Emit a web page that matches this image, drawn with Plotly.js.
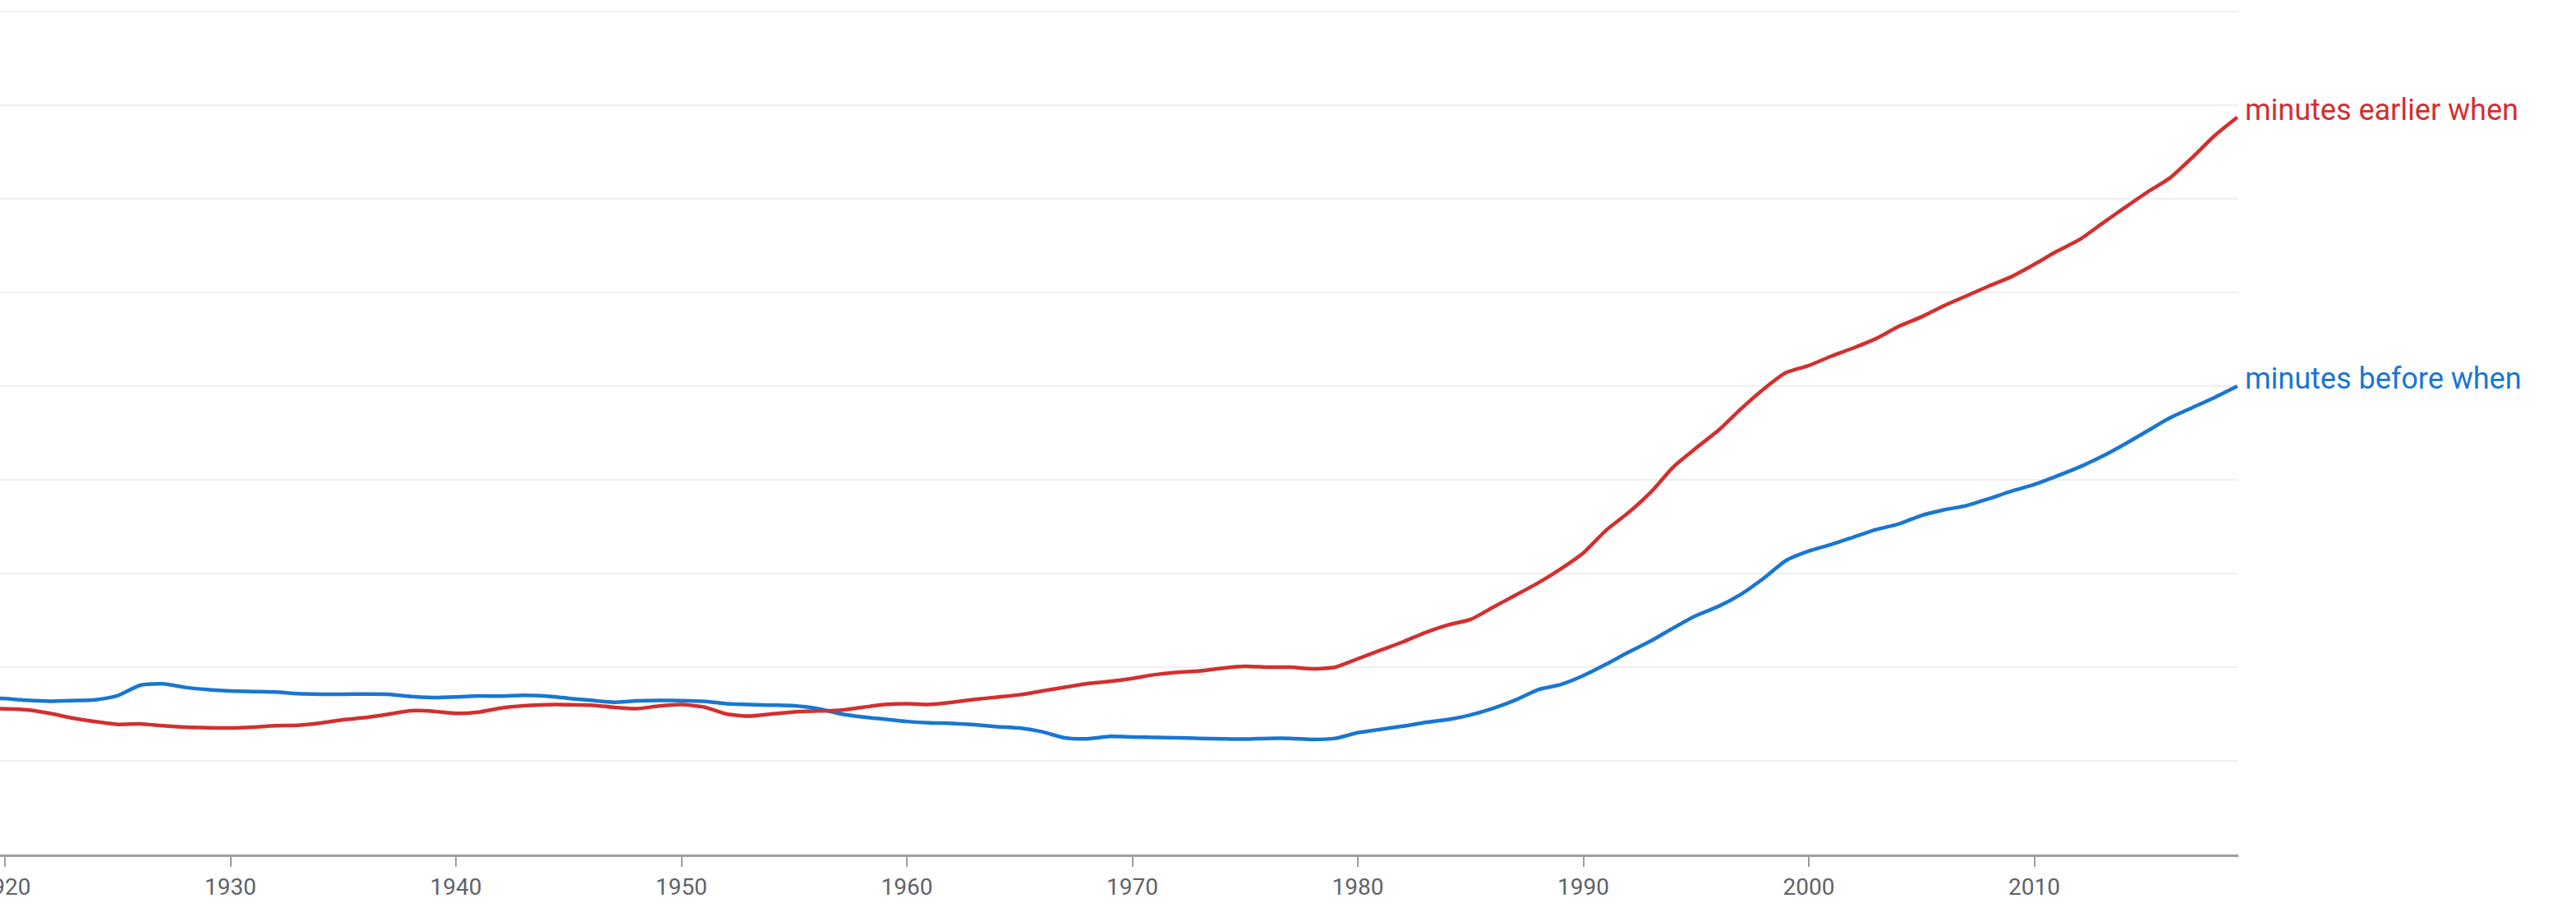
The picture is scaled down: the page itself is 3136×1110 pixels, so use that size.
<!DOCTYPE html>
<html>
<head>
<meta charset="utf-8">
<script src="https://cdn.plot.ly/plotly-3.0.1.min.js"></script>
<style>
  html, body { margin: 0; padding: 0; background: #ffffff; }
  #chart { width: 3136px; height: 1110px; }
</style>
</head>
<body>
<div id="chart"></div>
<script>
// Years shown (1919 - 2019; the plot is cut just before 1920)
const years = [];
for (let y = 1919; y <= 2019; y++) years.push(y);

// Series names
const nameEarlier = "minutes earlier when";
const nameBefore = "minutes before when";

// "minutes earlier when" (relative frequency, gridline units)
const earlierValues = [
  1.558,
  1.555, 1.544, 1.506, 1.456, 1.418, 1.389, 1.395, 1.374, 1.360, 1.354,
  1.351, 1.360, 1.374, 1.380, 1.404, 1.439, 1.462, 1.497, 1.535, 1.529,
  1.506, 1.520, 1.564, 1.588, 1.599, 1.599, 1.594, 1.572, 1.556, 1.585,
  1.600, 1.575, 1.500, 1.477, 1.500, 1.522, 1.532, 1.540, 1.570, 1.600,
  1.610, 1.602, 1.625, 1.655, 1.680, 1.705, 1.746, 1.785, 1.825, 1.848,
  1.880, 1.920, 1.945, 1.960, 1.990, 2.009, 2.000, 2.000, 1.982, 2.000,
  2.090, 2.180, 2.270, 2.370, 2.450, 2.510, 2.640, 2.770, 2.900, 3.050,
  3.220, 3.460, 3.650, 3.870, 4.140, 4.340, 4.530, 4.760, 4.970, 5.146,
  5.220, 5.320, 5.410, 5.510, 5.640, 5.740, 5.860, 5.965, 6.070, 6.170,
  6.300, 6.440, 6.564, 6.735, 6.905, 7.070, 7.220, 7.440, 7.675, 7.870
];

// "minutes before when"
const beforeValues = [
  1.670,
  1.664, 1.646, 1.637, 1.643, 1.652, 1.696, 1.807, 1.822, 1.784, 1.760,
  1.746, 1.740, 1.734, 1.716, 1.711, 1.711, 1.713, 1.711, 1.687, 1.675,
  1.681, 1.693, 1.690, 1.699, 1.690, 1.667, 1.646, 1.625, 1.640, 1.645,
  1.643, 1.635, 1.610, 1.600, 1.595, 1.588, 1.560, 1.505, 1.470, 1.445,
  1.420, 1.405, 1.400, 1.385, 1.365, 1.350, 1.310, 1.245, 1.235, 1.260,
  1.255, 1.250, 1.245, 1.240, 1.235, 1.232, 1.240, 1.240, 1.228, 1.240,
  1.300, 1.335, 1.370, 1.410, 1.440, 1.490, 1.560, 1.650, 1.760, 1.815,
  1.910, 2.030, 2.160, 2.280, 2.420, 2.550, 2.650, 2.780, 2.950, 3.140,
  3.240, 3.310, 3.390, 3.470, 3.530, 3.620, 3.680, 3.725, 3.800, 3.880,
  3.950, 4.040, 4.137, 4.250, 4.380, 4.520, 4.660, 4.770, 4.880, 5.000
];

// X-axis tick labels
const tickYears = [1920, 1930, 1940, 1950, 1960, 1970, 1980, 1990, 2000, 2010];
const tickLabels = tickYears.map(String);

const RED = "#d32f2f";
const BLUE = "#1976d2";

const traces = [
  {
    x: years, y: beforeValues, name: nameBefore, type: "scatter", mode: "lines",
    line: { color: BLUE, width: 4.5, shape: "spline", smoothing: 0.6 },
    cliponaxis: true, hoverinfo: "x+y+name"
  },
  {
    x: years, y: earlierValues, name: nameEarlier, type: "scatter", mode: "lines",
    line: { color: RED, width: 4.5, shape: "spline", smoothing: 0.6 },
    cliponaxis: true, hoverinfo: "x+y+name"
  }
];

const lastIdx = years.length - 1;

const layout = {
  width: 3136,
  height: 1110,
  margin: { l: 0, r: 411, t: 10, b: 70, pad: 0 },
  paper_bgcolor: "#ffffff",
  plot_bgcolor: "#ffffff",
  showlegend: false,
  font: { family: "Roboto, 'Noto Sans', sans-serif", color: "#5f6368" },
  xaxis: {
    range: [1919.78, 2019.05],
    tickmode: "array",
    tickvals: tickYears,
    ticktext: tickLabels,
    ticks: "outside",
    ticklen: 12,
    tickwidth: 2,
    tickcolor: "#9e9e9e",
    ticklabeloverflow: "allow",
    showline: true,
    linecolor: "#9e9e9e",
    linewidth: 3,
    showgrid: false,
    zeroline: false,
    tickfont: { family: "Roboto, sans-serif", size: 28, color: "#5f6368" }
  },
  yaxis: {
    range: [0, 9.035],
    dtick: 1,
    tick0: 0,
    showgrid: true,
    gridcolor: "#efefef",
    gridwidth: 2,
    showticklabels: false,
    ticks: "",
    zeroline: false,
    showline: false
  },
  annotations: [
    {
      x: years[lastIdx], y: earlierValues[lastIdx], xref: "x", yref: "y",
      text: nameEarlier, showarrow: false, xanchor: "left", yanchor: "middle",
      xshift: 7, yshift: 9,
      font: { family: "Roboto, sans-serif", size: 36, color: RED }
    },
    {
      x: years[lastIdx], y: beforeValues[lastIdx], xref: "x", yref: "y",
      text: nameBefore, showarrow: false, xanchor: "left", yanchor: "middle",
      xshift: 7, yshift: 9,
      font: { family: "Roboto, sans-serif", size: 36, color: BLUE }
    }
  ]
};

Plotly.newPlot("chart", traces, layout, { staticPlot: true, displayModeBar: false });
</script>
</body>
</html>
